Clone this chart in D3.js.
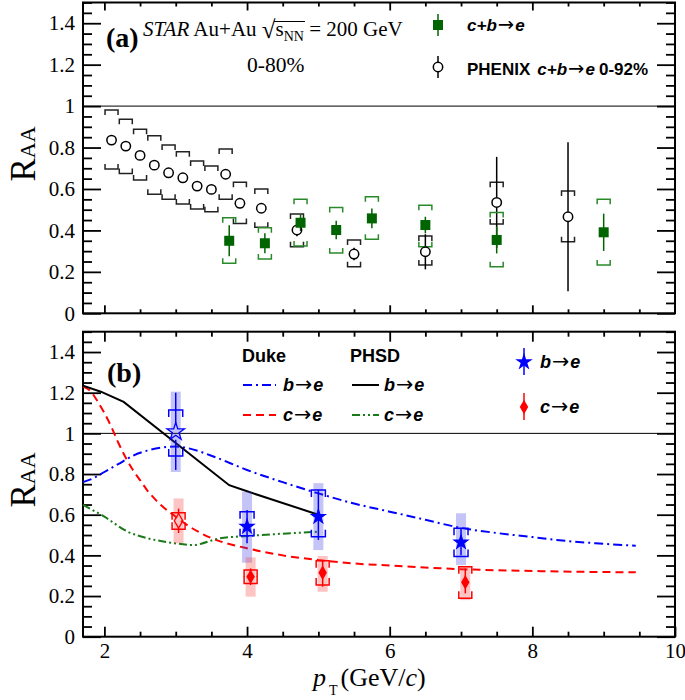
<!DOCTYPE html>
<html><head><meta charset="utf-8">
<script src="https://cdn.jsdelivr.net/npm/d3@7"></script>
<style>body{margin:0;background:#fff}</style>
</head><body>
<svg id="c" width="685" height="700" xmlns="http://www.w3.org/2000/svg"></svg>
<script>
// ---------------- DATA ----------------
const xTickValues = [2, 4, 6, 8, 10];
const xTickLabels = ["2", "4", "6", "8", "10"];
const yTickValues = [0, 0.2, 0.4, 0.6, 0.8, 1, 1.2, 1.4];
const yTickLabels = ["0", "0.2", "0.4", "0.6", "0.8", "1", "1.2", "1.4"];

// Panel (a): STAR c+b->e
const starPt    = [3.75, 4.25, 4.75, 5.25, 5.75, 6.5, 7.5, 9.0];
const starRaa   = [0.350, 0.338, 0.437, 0.402, 0.458, 0.426, 0.354, 0.391];
const starStat  = [0.075, 0.048, 0.040, 0.045, 0.048, 0.040, 0.065, 0.090];
const starSysLo = [0.241, 0.262, 0.325, 0.291, 0.357, 0.321, 0.225, 0.233];
const starSysHi = [0.461, 0.413, 0.551, 0.511, 0.562, 0.522, 0.487, 0.550];

// Panel (a): PHENIX c+b->e 0-92%
const phxPt    = [2.1, 2.3, 2.5, 2.7, 2.9, 3.1, 3.3, 3.5, 3.7, 3.9, 4.2, 4.7, 5.5, 6.5, 7.5, 8.5];
const phxRaa   = [0.836, 0.807, 0.762, 0.715, 0.678, 0.654, 0.614, 0.598, 0.671, 0.531, 0.507, 0.402, 0.286, 0.297, 0.535, 0.466];
const phxStat  = [0.01, 0.01, 0.01, 0.01, 0.01, 0.01, 0.012, 0.012, 0.015, 0.015, 0.02, 0.03, 0.03, 0.085, 0.22, 0.36];
const phxSysLo = [0.696, 0.675, 0.643, 0.575, 0.551, 0.527, 0.503, 0.490, 0.550, 0.434, 0.415, 0.321, 0.225, 0.233, 0.431, 0.345];
const phxSysHi = [0.981, 0.936, 0.888, 0.857, 0.812, 0.780, 0.735, 0.711, 0.793, 0.632, 0.600, 0.479, 0.354, 0.373, 0.632, 0.590];

// Panel (b): b->e data
const bPt     = [3.0, 4.0, 5.0, 7.0];
const bRaa    = [1.008, 0.541, 0.590, 0.464];
const bStatLo = [0.82, 0.459, 0.476, 0.400];
const bStatHi = [1.20, 0.623, 0.722, 0.533];
const bSysLo  = [0.889, 0.497, 0.492, 0.394];
const bSysHi  = [1.115, 0.615, 0.722, 0.533];
const bBandLo = [0.81, 0.364, 0.426, 0.353];
const bBandHi = [1.205, 0.713, 0.755, 0.607];
const bOpen   = [true, false, false, false];

// Panel (b): c->e data
const cPt     = [3.04, 4.05, 5.06, 7.06];
const cRaa    = [0.570, 0.295, 0.315, 0.268];
const cStatLo = [0.51, 0.254, 0.246, 0.213];
const cStatHi = [0.63, 0.336, 0.377, 0.336];
const cSysLo  = [0.528, 0.262, 0.254, 0.189];
const cSysHi  = [0.610, 0.328, 0.374, 0.344];
const cBandLo = [0.459, 0.197, 0.221, 0.180];
const cBandHi = [0.68, 0.39, 0.397, 0.344];
const cOpen   = [true, false, false, false];

// Model curves
const dukeBPt  = [1.7, 1.85, 2.0, 2.2, 2.4, 2.6, 2.8, 3.0, 3.2, 3.5, 4.0, 4.5, 5.0, 5.5, 6.0, 6.5, 7.0, 7.5, 8.0, 8.5, 9.0, 9.45];
const dukeBRaa = [0.76, 0.78, 0.81, 0.85, 0.89, 0.915, 0.93, 0.935, 0.925, 0.89, 0.82, 0.76, 0.705, 0.655, 0.615, 0.575, 0.535, 0.51, 0.49, 0.47, 0.457, 0.447];
const dukeCPt  = [1.7, 1.8, 1.9, 2.0, 2.1, 2.2, 2.3, 2.4, 2.5, 2.6, 2.7, 2.8, 3.0, 3.2, 3.5, 4.0, 4.5, 5.0, 5.5, 6.0, 7.0, 8.0, 9.0, 9.45];
const dukeCRaa = [1.23, 1.21, 1.16, 1.10, 1.03, 0.95, 0.88, 0.82, 0.77, 0.72, 0.68, 0.645, 0.59, 0.54, 0.485, 0.435, 0.40, 0.377, 0.36, 0.35, 0.332, 0.323, 0.318, 0.317];
const phsdBPt  = [1.7, 1.95, 2.27, 3.75, 4.0, 5.0];
const phsdBRaa = [1.235, 1.205, 1.155, 0.745, 0.715, 0.60];
const phsdCPt  = [1.7, 2.0, 2.33, 2.61, 2.94, 3.24, 3.62, 4.0, 5.0];
const phsdCRaa = [0.648, 0.59, 0.516, 0.484, 0.462, 0.451, 0.484, 0.495, 0.516];

// ---------------- STYLE ----------------
const GREEN = "#006400", BLUE = "#0000ff", RED = "#ff0000", DKGREEN = "#1a7a1a";
const SERIF = "'Liberation Serif','Times New Roman',serif";
const SANS = "'Liberation Sans',Arial,sans-serif";
const ARROWFONT = "'DejaVu Sans',sans-serif";

const svg = d3.select("#c");
const x = d3.scaleLinear().domain([1.7, 10]).range([83, 675]);
const yA = d3.scaleLinear().domain([0, 1.5]).range([313.3, 2.5]);
const yB = d3.scaleLinear().domain([0, 1.5]).range([636.7, 331.7]);

const yMinor = d3.range(0, 1.501, 0.05).filter(v => Math.abs(v / 0.2 - Math.round(v / 0.2)) > 1e-6);
const xMinor = d3.range(2, 10.01, 0.5).filter(v => Math.abs(v / 2 - Math.round(v / 2)) > 1e-6);

function frame(y, xLabels, xMaj, xMin) {
  const [x0, x1] = x.range();
  const [yb, yt] = y.range();
  const g = svg.append("g");
  function styleAxis(sel) {
    sel.select(".domain").remove();
    sel.selectAll(".tick line").attr("stroke", "#000").attr("stroke-width", 1.8);
    sel.attr("font-family", SERIF).attr("font-size", 21);
    sel.selectAll(".tick text").attr("fill", "#000");
  }
  g.append("g").attr("transform", `translate(${x0},0)`)
    .call(d3.axisLeft(y).tickValues(yTickValues).tickSizeInner(-18).tickSizeOuter(0).tickPadding(8)
      .tickFormat((d, i) => yTickLabels[i])).call(styleAxis);
  g.append("g").attr("transform", `translate(${x0},0)`)
    .call(d3.axisLeft(y).tickValues(yMinor).tickSizeInner(-9).tickSizeOuter(0).tickFormat("")).call(styleAxis);
  g.append("g").attr("transform", `translate(${x1},0)`)
    .call(d3.axisRight(y).tickValues(yTickValues).tickSizeInner(-18).tickSizeOuter(0).tickFormat("")).call(styleAxis);
  g.append("g").attr("transform", `translate(${x1},0)`)
    .call(d3.axisRight(y).tickValues(yMinor).tickSizeInner(-9).tickSizeOuter(0).tickFormat("")).call(styleAxis);
  const xv = xTickValues.filter(v => v < 10);
  g.append("g").attr("transform", `translate(0,${yb})`)
    .call(d3.axisBottom(x).tickValues(xLabels ? xTickValues : xv).tickSizeInner(-xMaj).tickSizeOuter(0).tickPadding(6)
      .tickFormat((d, i) => xLabels ? xTickLabels[i] : "")).call(styleAxis);
  g.append("g").attr("transform", `translate(0,${yb})`)
    .call(d3.axisBottom(x).tickValues(xMinor).tickSizeInner(-xMin).tickSizeOuter(0).tickFormat("")).call(styleAxis);
  g.append("g").attr("transform", `translate(0,${yt})`)
    .call(d3.axisTop(x).tickValues(xv).tickSizeInner(-xMaj).tickSizeOuter(0).tickFormat("")).call(styleAxis);
  g.append("g").attr("transform", `translate(0,${yt})`)
    .call(d3.axisTop(x).tickValues(xMinor).tickSizeInner(-xMin).tickSizeOuter(0).tickFormat("")).call(styleAxis);
  g.append("rect").attr("x", x0).attr("y", yt).attr("width", x1 - x0).attr("height", yb - yt)
    .attr("fill", "none").attr("stroke", "#000").attr("stroke-width", 2);
  g.append("line").attr("x1", x0).attr("x2", x1).attr("y1", y(1)).attr("y2", y(1))
    .attr("stroke", "#000").attr("stroke-width", 1);
}

function vseg(g, px, ya, yb2, color, w) {
  if (yb2 - ya > 0.5) g.append("line").attr("x1", px).attr("x2", px).attr("y1", ya).attr("y2", yb2)
    .attr("stroke", color).attr("stroke-width", w);
}
function statBar(g, px, yHi, yLo, yMid, gap, color, w) {
  vseg(g, px, yHi, yMid - gap, color, w);
  vseg(g, px, yMid + gap, yLo, color, w);
}
function brackets(g, px, yHi, yLo, half, leg, color, w) {
  g.append("path").attr("d", `M${px - half},${yHi + leg}V${yHi}H${px + half}V${yHi + leg}`)
    .attr("fill", "none").attr("stroke", color).attr("stroke-width", w);
  g.append("path").attr("d", `M${px - half},${yLo - leg}V${yLo}H${px + half}V${yLo - leg}`)
    .attr("fill", "none").attr("stroke", color).attr("stroke-width", w);
}

// ---------------- PANEL (a) ----------------
frame(yA, false, 8, 4);
const ga = svg.append("g");
phxPt.forEach((p, i) => {
  const px = x(p);
  brackets(ga, px, yA(phxSysHi[i]), yA(phxSysLo[i]), 6.5, 5, "#222", 1.5);
  statBar(ga, px, yA(phxRaa[i] + phxStat[i]), yA(phxRaa[i] - phxStat[i]), yA(phxRaa[i]), 5, "#000", 1.5);
});
starPt.forEach((p, i) => {
  const px = x(p);
  brackets(ga, px, yA(starSysHi[i]), yA(starSysLo[i]), 6.5, 5, "#2a8a2a", 1.5);
  statBar(ga, px, yA(starRaa[i] + starStat[i]), yA(starRaa[i] - starStat[i]), yA(starRaa[i]), 0, GREEN, 1.5);
});
ga.selectAll("circle.phx").data(phxPt).enter().append("circle")
  .attr("cx", d => x(d)).attr("cy", (d, i) => yA(phxRaa[i])).attr("r", 4.7)
  .attr("fill", "none").attr("stroke", "#000").attr("stroke-width", 1.5);
ga.selectAll("rect.star").data(starPt).enter().append("rect")
  .attr("x", d => x(d) - 5).attr("y", (d, i) => yA(starRaa[i]) - 5).attr("width", 10).attr("height", 10)
  .attr("fill", GREEN);

// Panel (a) texts
svg.append("text").attr("x", 106).attr("y", 47).attr("font-family", SERIF).attr("font-weight", "bold")
  .attr("font-size", 28).text("(a)");
const t1 = svg.append("text").attr("x", 143).attr("y", 36).attr("font-family", SERIF).attr("font-size", 21);
t1.append("tspan").attr("font-style", "italic").text("STAR");
t1.append("tspan").text(" Au+Au ");
t1.append("tspan").attr("font-size", 25).attr("dy", 2).text("\u221A");
t1.append("tspan").attr("dy", -2).text("s");
t1.append("tspan").attr("font-size", 14).attr("dy", 5).text("NN");
t1.append("tspan").attr("dy", -5).text(" = 200 GeV");
{
  const node = t1.node();
  const s = node.getExtentOfChar(11), e = node.getExtentOfChar(14);
  svg.append("line").attr("x1", s.x + s.width - 1.5).attr("x2", e.x + e.width + 1)
    .attr("y1", 21.5).attr("y2", 21.5).attr("stroke", "#000").attr("stroke-width", 1);
}
svg.append("text").attr("x", 247).attr("y", 72).attr("font-family", SERIF).attr("font-size", 21.5).text("0-80%");

function arrowText(t, pre, size, dx0) {
  t.append("tspan").attr("font-style", "italic").attr("dx", dx0 || 0).text(pre);
  t.append("tspan").attr("font-family", ARROWFONT).attr("font-style", "normal").attr("font-weight", "normal")
    .attr("font-size", size * 1.15).attr("dx", 1).text("\u2192");
  t.append("tspan").attr("font-style", "italic").attr("dx", 1).text("e");
}

// Legend (a)
svg.append("line").attr("x1", 438).attr("x2", 438).attr("y1", 14).attr("y2", 36).attr("stroke", GREEN).attr("stroke-width", 1.5);
svg.append("rect").attr("x", 433).attr("y", 20).attr("width", 10).attr("height", 10).attr("fill", GREEN);
const l1 = svg.append("text").attr("x", 467).attr("y", 31).attr("font-family", SANS).attr("font-size", 17)
  .attr("font-weight", "bold");
arrowText(l1, "c+b", 17, 0);
svg.append("line").attr("x1", 438).attr("x2", 438).attr("y1", 56).attr("y2", 62).attr("stroke", "#000").attr("stroke-width", 1.5);
svg.append("line").attr("x1", 438).attr("x2", 438).attr("y1", 72).attr("y2", 78).attr("stroke", "#000").attr("stroke-width", 1.5);
svg.append("circle").attr("cx", 438).attr("cy", 67).attr("r", 4.7).attr("fill", "none").attr("stroke", "#000").attr("stroke-width", 1.5);
const l2 = svg.append("text").attr("x", 467).attr("y", 75).attr("font-family", SANS).attr("font-size", 17).attr("font-weight", "bold");
l2.append("tspan").text("PHENIX");
arrowText(l2, "c+b", 17, 7);
l2.append("tspan").attr("dx", 4).text("0-92%");

// ---------------- PANEL (b) ----------------
frame(yB, true, 10, 5);
const gb = svg.append("g");
const line = (pts, vals, curve) => d3.line().x((d, i) => x(pts[i])).y(d => yB(d)).curve(curve)(vals);
gb.append("path").attr("d", line(dukeBPt, dukeBRaa, d3.curveMonotoneX)).attr("fill", "none")
  .attr("stroke", BLUE).attr("stroke-width", 2).attr("stroke-dasharray", "9,4,2,4");
gb.append("path").attr("d", line(dukeCPt, dukeCRaa, d3.curveMonotoneX)).attr("fill", "none")
  .attr("stroke", RED).attr("stroke-width", 2).attr("stroke-dasharray", "8,5");
gb.append("path").attr("d", line(phsdBPt, phsdBRaa, d3.curveLinear)).attr("fill", "none")
  .attr("stroke", "#000").attr("stroke-width", 2);
gb.append("path").attr("d", line(phsdCPt, phsdCRaa, d3.curveMonotoneX)).attr("fill", "none")
  .attr("stroke", DKGREEN).attr("stroke-width", 2).attr("stroke-dasharray", "8,3,2,3,2,3");

gb.selectAll("rect.bband").data(bPt).enter().append("rect")
  .attr("x", d => x(d) - 5).attr("y", (d, i) => yB(bBandHi[i])).attr("width", 10)
  .attr("height", (d, i) => yB(bBandLo[i]) - yB(bBandHi[i])).attr("fill", "rgba(60,60,230,0.3)");
gb.selectAll("rect.cband").data(cPt).enter().append("rect")
  .attr("x", d => x(d) - 5).attr("y", (d, i) => yB(cBandHi[i])).attr("width", 10)
  .attr("height", (d, i) => yB(cBandLo[i]) - yB(cBandHi[i])).attr("fill", "rgba(250,60,60,0.3)");

const starSym = d3.symbol().type(d3.symbolStar).size(95);
const diaSym = d3.symbol().type(d3.symbolDiamond).size(62);
bPt.forEach((p, i) => {
  const px = x(p);
  brackets(gb, px, yB(bSysHi[i]), yB(bSysLo[i]), 7, 7, BLUE, 1.5);
  statBar(gb, px, yB(bStatHi[i]), yB(bStatLo[i]), yB(bRaa[i]), bOpen[i] ? 8 : 0, BLUE, 1.5);
  gb.append("path").attr("d", starSym()).attr("transform", `translate(${px},${yB(bRaa[i])})`)
    .attr("fill", bOpen[i] ? "none" : BLUE).attr("stroke", BLUE).attr("stroke-width", bOpen[i] ? 1.3 : 0);
});
cPt.forEach((p, i) => {
  const px = x(p);
  brackets(gb, px, yB(cSysHi[i]), yB(cSysLo[i]), 6.5, 7, RED, 1.5);
  statBar(gb, px, yB(cStatHi[i]), yB(cStatLo[i]), yB(cRaa[i]), cOpen[i] ? 7 : 0, RED, 1.5);
  gb.append("path").attr("d", diaSym()).attr("transform", `translate(${px},${yB(cRaa[i])})`)
    .attr("fill", cOpen[i] ? "none" : RED).attr("stroke", RED).attr("stroke-width", cOpen[i] ? 1.3 : 0);
});

// Panel (b) texts
svg.append("text").attr("x", 107).attr("y", 382).attr("font-family", SERIF).attr("font-weight", "bold")
  .attr("font-size", 28).text("(b)");
svg.append("text").attr("x", 242).attr("y", 362).attr("font-family", SANS).attr("font-weight", "bold").attr("font-size", 18).text("Duke");
svg.append("text").attr("x", 350).attr("y", 362).attr("font-family", SANS).attr("font-weight", "bold").attr("font-size", 18).text("PHSD");

function arrowLabel(xp, yp, a) {
  const t = svg.append("text").attr("x", xp).attr("y", yp).attr("font-family", SANS).attr("font-size", 18)
    .attr("font-weight", "bold");
  arrowText(t, a, 18, 0);
}
function legLine(x1, x2, yp, color, dash) {
  svg.append("line").attr("x1", x1).attr("x2", x2).attr("y1", yp).attr("y2", yp).attr("stroke", color)
    .attr("stroke-width", 2).attr("stroke-dasharray", dash);
}
legLine(243, 276, 385, BLUE, "9,4,2,4"); arrowLabel(283, 391, "b");
legLine(243, 276, 415, RED, "8,5"); arrowLabel(283, 421, "c");
legLine(352, 379, 385, "#000", null); arrowLabel(384, 391, "b");
legLine(352, 379, 415, DKGREEN, "8,3,2,3,2,3"); arrowLabel(384, 421, "c");

svg.append("line").attr("x1", 524).attr("x2", 524).attr("y1", 348).attr("y2", 375).attr("stroke", BLUE).attr("stroke-width", 1.5);
svg.append("path").attr("d", starSym()).attr("transform", "translate(524,362)").attr("fill", BLUE);
arrowLabel(540, 368, "b");
svg.append("line").attr("x1", 524).attr("x2", 524).attr("y1", 393).attr("y2", 420).attr("stroke", RED).attr("stroke-width", 1.5);
svg.append("path").attr("d", diaSym()).attr("transform", "translate(524,407)").attr("fill", RED);
arrowLabel(540, 413, "c");

// Axis titles
function raaTitle(cy) {
  const t = svg.append("text").attr("transform", `translate(35,${cy}) rotate(-90)`).attr("text-anchor", "middle")
    .attr("font-family", SERIF).attr("font-size", 35);
  t.append("tspan").text("R");
  t.append("tspan").attr("font-size", 22).text("AA");
}
raaTitle(154);
raaTitle(480);

const xt = svg.append("text").attr("x", 313).attr("y", 686).attr("font-family", SERIF).attr("font-size", 26);
xt.append("tspan").attr("font-style", "italic").text("p");
xt.append("tspan").attr("font-size", 14).attr("dy", 9).attr("dx", 3).text("T");
xt.append("tspan").attr("dy", -9).attr("dx", 3).text("(GeV/");
xt.append("tspan").attr("font-style", "italic").text("c");
xt.append("tspan").text(")");
</script>
</body></html>
